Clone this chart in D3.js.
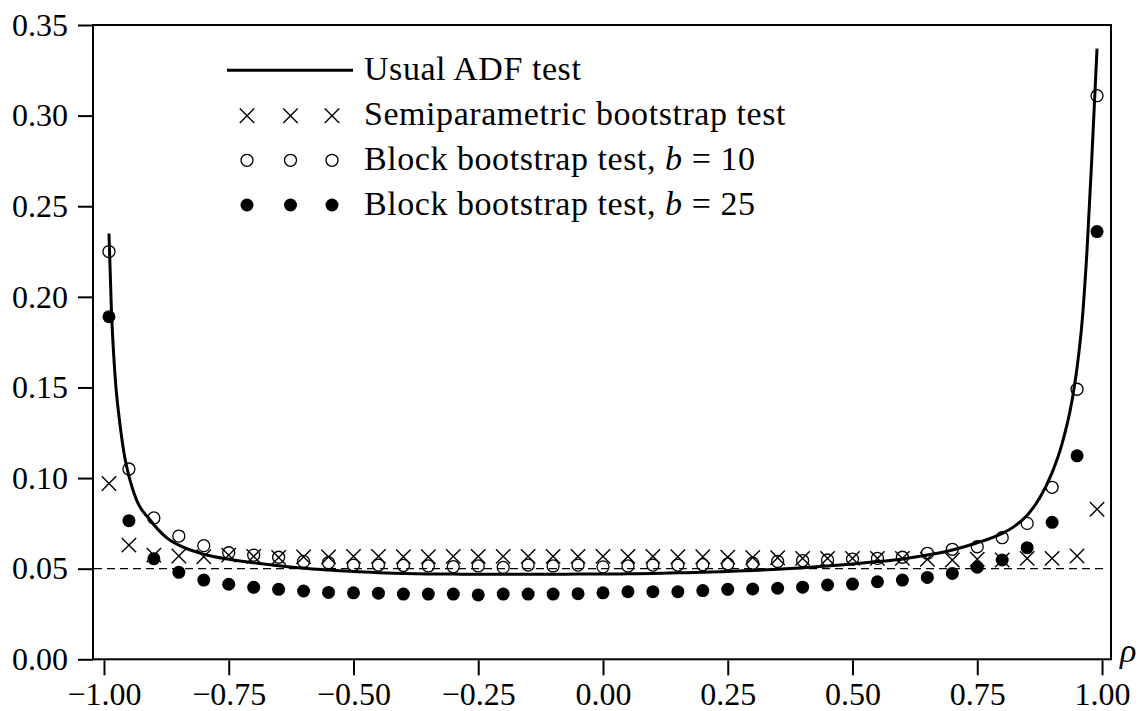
<!DOCTYPE html>
<html>
<head>
<meta charset="utf-8">
<title>ADF rejection frequencies</title>
<script src="https://cdn.jsdelivr.net/npm/d3@7"></script>
<style>
  body { margin: 0; background: #fff; }
  svg text { font-family: "Liberation Serif", "DejaVu Serif", serif; fill: #000; }
</style>
</head>
<body>
<svg id="chart" width="1139" height="711"></svg>
<script>
// ---- data ----
// usual ADF test (solid curve)
var adfRho = [-0.99, -0.985, -0.981, -0.976, -0.969, -0.96, -0.948, -0.935, -0.908, -0.874, -0.85, -0.80, -0.75, -0.70,
  -0.65, -0.60, -0.55, -0.50, -0.45, -0.40, -0.35, -0.30, -0.25, -0.20, -0.15, -0.10, -0.05, 0.00,
  0.05, 0.10, 0.15, 0.20, 0.25, 0.30, 0.35, 0.40, 0.45, 0.50, 0.55, 0.60, 0.65, 0.70, 0.75, 0.80,
  0.825, 0.85, 0.875, 0.90, 0.92, 0.94, 0.95, 0.96, 0.97, 0.98, 0.99];
var adfSize = [0.235, 0.192, 0.170, 0.150, 0.132, 0.114, 0.099, 0.088, 0.077, 0.067, 0.063, 0.058, 0.0552, 0.0533,
  0.0516, 0.0503, 0.0493, 0.0484, 0.0478, 0.0474, 0.0471, 0.0470, 0.0469, 0.0469, 0.0469, 0.0469, 0.0470, 0.0470,
  0.0472, 0.0474, 0.0477, 0.0480, 0.0485, 0.0490, 0.0497, 0.0505, 0.0515, 0.0526, 0.0539, 0.0554, 0.0575, 0.0603, 0.0643, 0.0695,
  0.0735, 0.0795, 0.089, 0.103, 0.119, 0.143, 0.161, 0.186, 0.226, 0.279, 0.337];

// bootstrap tests evaluated at these rho values
var rho = [-0.99, -0.95, -0.90, -0.85, -0.80, -0.75, -0.70, -0.65, -0.60, -0.55, -0.50, -0.45, -0.40,
  -0.35, -0.30, -0.25, -0.20, -0.15, -0.10, -0.05, 0.00, 0.05, 0.10, 0.15, 0.20, 0.25, 0.30, 0.35,
  0.40, 0.45, 0.50, 0.55, 0.60, 0.65, 0.70, 0.75, 0.80, 0.85, 0.90, 0.95, 0.99];
var semiparam = [0.097, 0.063, 0.0575, 0.057, 0.0566, 0.0575, 0.0568, 0.0562, 0.0565, 0.0565, 0.0568, 0.0568, 0.0566,
  0.0566, 0.0568, 0.0568, 0.0568, 0.0568, 0.0568, 0.0568, 0.0568, 0.0568, 0.0568, 0.0566, 0.0566, 0.0564, 0.0562, 0.056,
  0.0557, 0.0557, 0.0557, 0.0557, 0.0557, 0.0552, 0.0548, 0.0552, 0.0548, 0.0557, 0.0557, 0.057, 0.0828];
var block10 = [0.225, 0.105, 0.078, 0.068, 0.0627, 0.0588, 0.0575, 0.0563, 0.054, 0.0533, 0.052, 0.052, 0.0518,
  0.0515, 0.0511, 0.0515, 0.0507, 0.052, 0.0515, 0.052, 0.051, 0.0515, 0.052, 0.052, 0.0522, 0.0526, 0.053, 0.054,
  0.0545, 0.0548, 0.0553, 0.0557, 0.0563, 0.0585, 0.0607, 0.0621, 0.0671, 0.075, 0.0949, 0.149, 0.311];
var block25 = [0.189, 0.0765, 0.0555, 0.048, 0.0437, 0.0414, 0.0397, 0.0386, 0.0377, 0.0369, 0.0367, 0.0365, 0.036,
  0.036, 0.036, 0.0355, 0.036, 0.036, 0.036, 0.0362, 0.0367, 0.0373, 0.0373, 0.0373, 0.0379, 0.0386, 0.0388, 0.0392,
  0.0398, 0.041, 0.0415, 0.0428, 0.0437, 0.0452, 0.0474, 0.0508, 0.0548, 0.0616, 0.0756, 0.1123, 0.236];

var nominal = 0.05;
var xTicks = [-1.00, -0.75, -0.50, -0.25, 0.00, 0.25, 0.50, 0.75, 1.00];
var yTicks = [0.00, 0.05, 0.10, 0.15, 0.20, 0.25, 0.30, 0.35];
var legendLabels = ["Usual ADF test", "Semiparametric bootstrap test", "Block bootstrap test, ", "Block bootstrap test, "];
var legendMath = [null, null, "10", "25"];

// ---- layout ----
var svg = d3.select("#chart");
var pLeft = 93, pRight = 1111, pTop = 25, pBottom = 659.3;

var x = d3.scaleLinear().domain([-1.022, 1.018]).range([pLeft, pRight]);
var y = d3.scaleLinear().domain([0, 0.35]).range([pBottom, pTop]);

function fmt(d) {
  return (d < 0 ? "\u2212" : "") + Math.abs(d).toFixed(2);
}

// nominal level
svg.append("line")
  .attr("x1", x(-1.02)).attr("x2", x(1.008))
  .attr("y1", y(nominal)).attr("y2", y(nominal))
  .attr("stroke", "#000").attr("stroke-width", 1.3)
  .attr("stroke-dasharray", "8,5");

// axes
var xAxis = svg.append("g")
  .attr("transform", "translate(0," + (pBottom + 1) + ")")
  .call(d3.axisBottom(x).tickValues(xTicks).tickSize(15).tickPadding(10).tickFormat(fmt));
var yAxis = svg.append("g")
  .attr("transform", "translate(" + pLeft + ",0)")
  .call(d3.axisLeft(y).tickValues(yTicks).tickSize(15).tickPadding(10).tickFormat(function(d) { return d.toFixed(2); }));

[xAxis, yAxis].forEach(function(ax) {
  ax.select(".domain").remove();
  ax.selectAll(".tick line").attr("stroke", "#000").attr("stroke-width", 2);
  ax.selectAll(".tick text").attr("font-size", 32).attr("font-family", "Liberation Serif");
});
xAxis.selectAll(".tick text").attr("dy", "0.71em").attr("y", 22);

// frame
svg.append("rect")
  .attr("x", pLeft).attr("y", pTop)
  .attr("width", pRight - pLeft).attr("height", pBottom - pTop)
  .attr("fill", "none").attr("stroke", "#000").attr("stroke-width", 2);

// rho label
svg.append("text")
  .attr("x", 1120).attr("y", 662)
  .attr("font-size", 34).attr("font-style", "italic")
  .text("\u03c1");

// ADF curve
var line = d3.line()
  .x(function(d, i) { return x(adfRho[i]); })
  .y(function(d) { return y(d); })
  .curve(d3.curveMonotoneX);

svg.append("path")
  .datum(adfSize)
  .attr("d", line)
  .attr("fill", "none").attr("stroke", "#000").attr("stroke-width", 3);

// markers
function drawCross(g, cx, cy, s) {
  g.append("path")
    .attr("d", "M" + (cx - s) + "," + (cy - s) + "L" + (cx + s) + "," + (cy + s) +
               "M" + (cx - s) + "," + (cy + s) + "L" + (cx + s) + "," + (cy - s))
    .attr("stroke", "#000").attr("stroke-width", 1.4).attr("fill", "none");
}

var marks = svg.append("g");
rho.forEach(function(r, i) {
  drawCross(marks, x(r), y(semiparam[i]), 7.2);
});
marks.selectAll("circle.open")
  .data(block10)
  .enter().append("circle")
  .attr("class", "open")
  .attr("cx", function(d, i) { return x(rho[i]); })
  .attr("cy", function(d) { return y(d); })
  .attr("r", 6)
  .attr("fill", "none").attr("stroke", "#000").attr("stroke-width", 1.3);
marks.selectAll("circle.filled")
  .data(block25)
  .enter().append("circle")
  .attr("class", "filled")
  .attr("cx", function(d, i) { return x(rho[i]); })
  .attr("cy", function(d) { return y(d); })
  .attr("r", 6.5)
  .attr("fill", "#000");

// legend
var legend = svg.append("g");
var rowY = [70.3, 115.7, 160.3, 205];
var markX = [247, 290.5, 332];
var textX = 364;

legend.append("line")
  .attr("x1", 227).attr("x2", 353)
  .attr("y1", rowY[0]).attr("y2", rowY[0])
  .attr("stroke", "#000").attr("stroke-width", 3);
markX.forEach(function(mx) {
  drawCross(legend, mx, rowY[1], 7.2);
  legend.append("circle").attr("cx", mx).attr("cy", rowY[2]).attr("r", 6)
    .attr("fill", "none").attr("stroke", "#000").attr("stroke-width", 1.3);
  legend.append("circle").attr("cx", mx).attr("cy", rowY[3]).attr("r", 6.5)
    .attr("fill", "#000");
});

legendLabels.forEach(function(lbl, i) {
  var t = legend.append("text")
    .attr("x", textX).attr("y", rowY[i] + 9.5)
    .attr("font-size", 34)
    .attr("letter-spacing", 0.55);
  t.append("tspan").text(lbl);
  if (legendMath[i]) {
    t.append("tspan").attr("font-style", "italic").text("b");
    t.append("tspan").text(" = " + legendMath[i]);
  }
});
</script>
</body>
</html>
